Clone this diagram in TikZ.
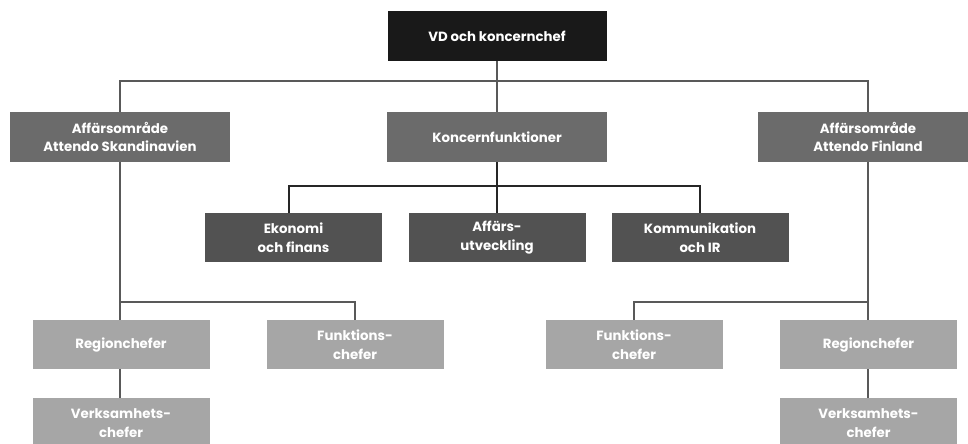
\documentclass[tikz,border=0pt]{standalone}
\usepackage{fontspec}
\setmainfont{Poppins}
\begin{document}
\begin{tikzpicture}[x=0.75pt,y=-0.75pt,
  box/.style={rectangle,inner sep=0pt,text=white,align=center,font=\fontsize{10}{14}\selectfont\bfseries},
  topbox/.style={box,fill=black!90,minimum width=219*0.75pt,minimum height=50*0.75pt},
  midbox/.style={box,fill=black!58,minimum width=220*0.75pt,minimum height=50*0.75pt},
  funcbox/.style={box,fill=black!68,minimum width=177*0.75pt,minimum height=49*0.75pt},
  lowbox/.style={box,fill=black!35,minimum width=177*0.75pt,minimum height=49*0.75pt},
  conn/.style={draw=black!65,line width=0.8pt},
  connd/.style={draw=black!85,line width=0.8pt}]
\useasboundingbox (0,0) rectangle (968,443);
\clip (0,0) rectangle (968,443);
% nodes
\node[topbox] (vd) at (497,36) {VD och koncernchef};
\node[midbox] (ska) at (120,137) {Affärsområde\\Attendo Skandinavien};
\node[midbox] (kf) at (497,137) {Koncernfunktioner};
\node[midbox] (fin) at (868,137) {Affärsområde\\Attendo Finland};
\node[funcbox] (eko) at (293.5,237.5) {Ekonomi\\och finans};
\node[funcbox] (aff) at (497,237.5) {Affärs-\\utveckling};
\node[funcbox] (kom) at (700,237.5) {Kommunikation\\och IR};
\node[lowbox] (reg1) at (121,344.5) {Regionchefer};
\node[lowbox] (fun1) at (355,344.5) {Funktions-\\chefer};
\node[lowbox] (fun2) at (634,344.5) {Funktions-\\chefer};
\node[lowbox] (reg2) at (868.5,344.5) {Regionchefer};
\node[lowbox,minimum height=50*0.75pt] (ver1) at (121,423) {Verksamhets-\\chefer};
\node[lowbox,minimum height=50*0.75pt] (ver2) at (868.5,423) {Verksamhets-\\chefer};
% coordinates
\coordinate (h1) at (0,81);
\coordinate (h2) at (0,186);
\coordinate (h3) at (0,302);
% connectors level 1
\draw[conn] (vd.south) -- (kf.north);
\draw[conn] (ska.north) |- (h1 -| vd.south) -| (fin.north);
% koncernfunktioner
\draw[connd] (kf.south) -- (aff.north);
\draw[connd] ([xshift=-4.5*0.75pt]eko.north) |- (h2 -| kf.south) -| (kom.north);
% Skandinavien
\draw[conn] (ska.south) -- (reg1.north -| ska.south);
\draw[conn] (h3 -| ska.south) -| (fun1.north);
\draw[conn] (reg1.south -| ska.south) -- (ver1.north -| ska.south);
% Finland
\draw[conn] (fin.south) -- (reg2.north -| fin.south);
\draw[conn] (h3 -| fin.south) -| (fun2.north);
\draw[conn] (reg2.south -| fin.south) -- (ver2.north -| fin.south);
\end{tikzpicture}
\end{document}
